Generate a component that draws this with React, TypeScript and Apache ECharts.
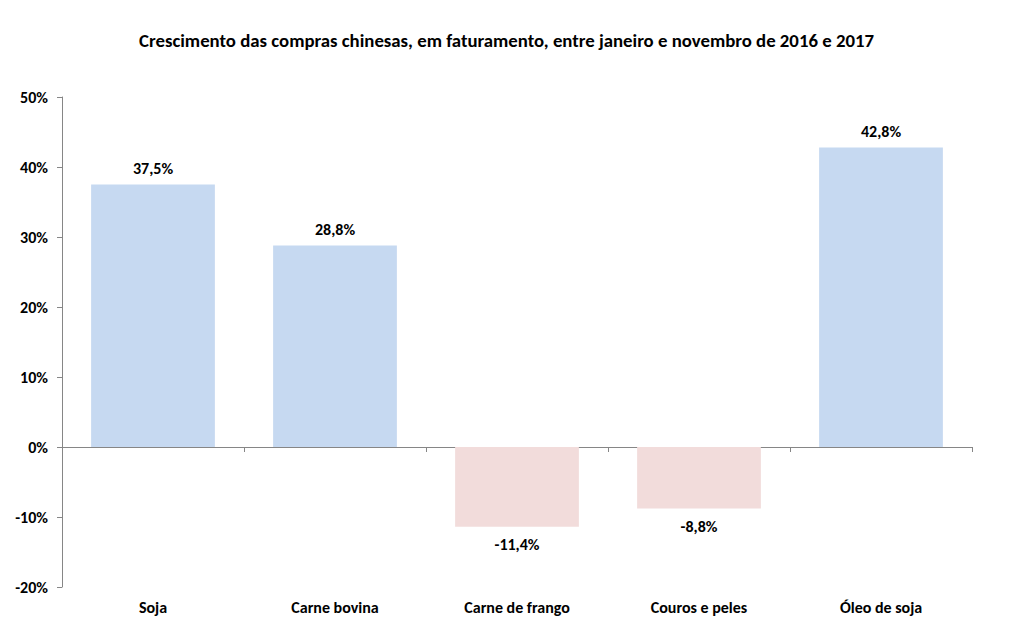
import React, { useEffect, useRef } from "react";
import * as echarts from "echarts";

const categories = ["Soja", "Carne bovina", "Carne de frango", "Couros e peles", "Óleo de soja"];
const values = [37.5, 28.8, -11.4, -8.8, 42.8];
const yTicks = { min: -20, max: 50, interval: 10 };
const titleText = "Crescimento das compras chinesas, em faturamento, entre janeiro e novembro de 2016 e 2017";

const FONT = "Carlito, 'Open Sans', 'Liberation Sans', sans-serif";
const fmt = (v: number) => v.toFixed(1).replace(".", ",") + "%";

export default function App() {
  const ref = useRef<HTMLDivElement>(null);
  useEffect(() => {
    if (!ref.current) return;
    const chart = echarts.init(ref.current, undefined, { renderer: "svg" });
    chart.setOption({
      animation: false,
      backgroundColor: "#ffffff",
      title: {
        text: titleText,
        left: "center",
        top: 18,
        textStyle: { fontFamily: FONT, fontSize: 18.8, fontWeight: "bold", color: "#000" },
      },
      grid: { left: 54, right: 33, top: 89, bottom: 37, containLabel: false },
      xAxis: [
        {
          type: "category",
          data: categories,
          position: "bottom",
          axisLine: { onZero: true, lineStyle: { color: "#868686", width: 1 } },
          axisTick: { show: true, length: 5, lineStyle: { color: "#868686" } },
          axisLabel: { show: false },
          splitLine: { show: false },
        },
        {
          type: "category",
          data: categories,
          position: "bottom",
          axisLine: { show: false, onZero: false },
          axisTick: { show: false },
          axisLabel: {
            show: true,
            margin: 12,
            fontFamily: FONT,
            fontSize: 16,
            fontWeight: "bold",
            color: "#000",
          },
          splitLine: { show: false },
        },
      ],
      yAxis: {
        type: "value",
        min: yTicks.min,
        max: yTicks.max,
        interval: yTicks.interval,
        axisLine: { show: true, lineStyle: { color: "#868686" } },
        axisTick: { show: true, length: 5, lineStyle: { color: "#868686" } },
        splitLine: { show: false },
        axisLabel: {
          margin: 14,
          fontFamily: FONT,
          fontSize: 16,
          fontWeight: "bold",
          color: "#000",
          formatter: (v: number) => v + "%",
        },
      },
      series: [
        {
          type: "bar",
          xAxisIndex: 0,
          barCategoryGap: "32%",
          data: values.map((v) => ({
            value: v,
            itemStyle: { color: v >= 0 ? "#C6D9F1" : "#F2DCDB" },
            label: { position: v >= 0 ? "top" : "bottom", distance: v >= 0 ? 8 : 10 },
          })),
          label: {
            show: true,
            fontFamily: FONT,
            fontSize: 16,
            fontWeight: "bold",
            color: "#000",
            formatter: (p: any) => fmt(p.value),
          },
        },
      ],
    });
    return () => chart.dispose();
  }, []);
  return <div ref={ref} style={{ width: 997, height: 616 }} />;
}
